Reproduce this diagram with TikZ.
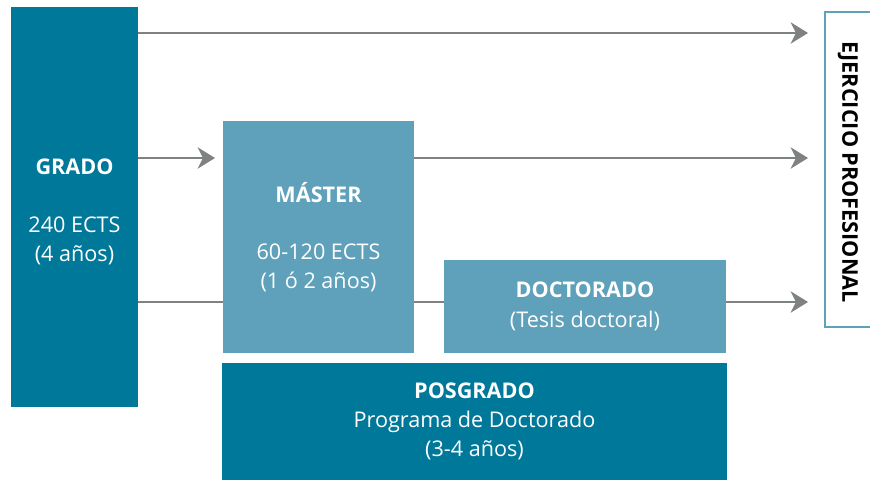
\documentclass[tikz,border=0pt]{standalone}
\usepackage{fontspec}
\setmainfont{Open Sans}
\usetikzlibrary{arrows.meta}
\definecolor{dark}{HTML}{00789A}
\definecolor{light}{HTML}{5FA1BA}
\definecolor{arrowgray}{HTML}{7F8282}
\begin{document}
\begin{tikzpicture}[x=0.75pt, y=-0.75pt,
  box/.style={inner sep=0pt, outer sep=0pt, text=white, align=center,
    font=\fontsize{16.2}{22}\selectfont},
  darkbox/.style={box, fill=dark},
  lightbox/.style={box, fill=light},
  link/.style={draw=arrowgray, line width=1.9pt},
  go/.style={link, -{Stealth[length=13pt, width=16pt, inset=4pt]}}]
  \clip (0,0) rectangle (870,481);
  \node[darkbox, minimum width=95.25pt, minimum height=300pt] (grado) at (74.5,207) {};
  \node[box] (gradotxt) at (74.5,212)
    {\textbf{GRADO}\\[21pt]240 ECTS\\(4 años)};
  \node[lightbox, minimum width=143.25pt, minimum height=174pt] (master) at (318.5,237)
    {\textbf{MÁSTER}\\[21pt]60-120 ECTS\\(1 ó 2 años)};
  \node[lightbox, minimum width=211.5pt, minimum height=69.75pt] (doct) at (585,306.5)
    {\textbf{DOCTORADO}\\(Tesis doctoral)};
  \node[darkbox, minimum width=378.75pt, minimum height=87.75pt] (posgrado) at (474.5,421.5)
    {\textbf{POSGRADO}\\Programa de Doctorado\\(3-4 años)};
  \node[draw=light, line width=1.5pt, inner sep=0pt, minimum width=41.25pt,
    minimum height=236.25pt] (ejer) at (852.5,169.5) {};
  \node[rotate=-90, font=\fontsize{16.2}{18}\selectfont\bfseries] (ejertxt) at (848,172)
    {EJERCICIO PROFESIONAL};
  % salidas
  \coordinate (lvla) at (0,33);
  \coordinate (lvlb) at (0,158);
  \coordinate (lvlc) at (0,302);
  \draw[go, shorten >=12pt] (grado.east |- lvla) -- (ejer.west |- lvla);
  \draw[go, shorten >=6pt] (grado.east |- lvlb) -- (master.west |- lvlb);
  \draw[go, shorten >=12pt] (master.east |- lvlb) -- (ejer.west |- lvlb);
  \draw[link] (grado.east |- lvlc) -- (master.west |- lvlc);
  \draw[link] (master.east |- lvlc) -- (doct.west |- lvlc);
  \draw[go, shorten >=12pt] (doct.east |- lvlc) -- (ejer.west |- lvlc);
\end{tikzpicture}
\end{document}
